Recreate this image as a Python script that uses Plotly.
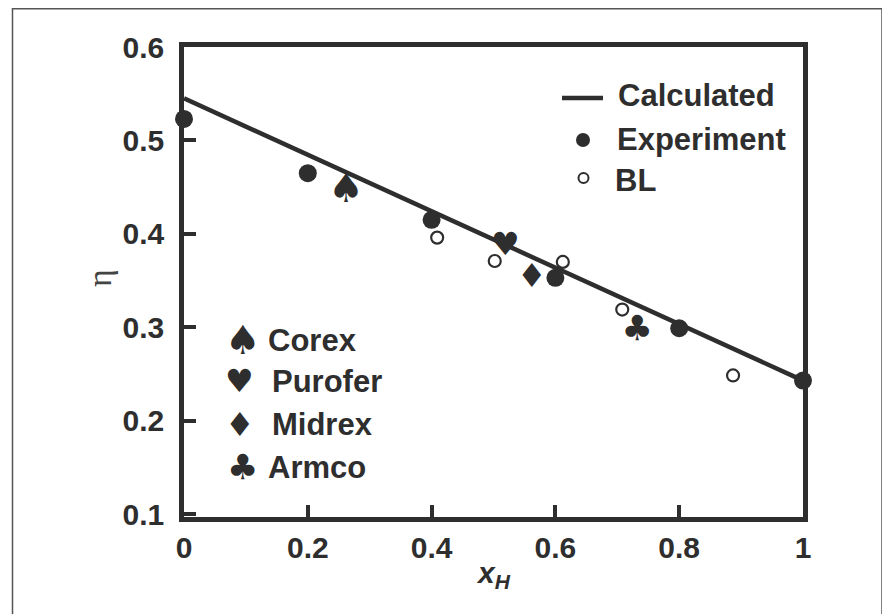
import plotly.graph_objects as go

# ---- data ----
calc_x = [0.0, 1.0]
calc_y = [0.545, 0.243]

exp_x = [0.0, 0.2, 0.4, 0.6, 0.8, 1.0]
exp_y = [0.523, 0.465, 0.415, 0.353, 0.299, 0.243]

bl_x = [0.409, 0.502, 0.612, 0.708, 0.887]
bl_y = [0.396, 0.371, 0.370, 0.319, 0.2485]

plant_names = ["Corex", "Purofer", "Midrex", "Armco"]
plant_symbols = ["\u2660", "\u2665", "\u2666", "\u2663"]
plant_x = [0.262, 0.519, 0.562, 0.732]
plant_y = [0.445, 0.386, 0.352, 0.296]

x_ticks = [0, 0.2, 0.4, 0.6, 0.8, 1]
x_ticklabels = ["0", "0.2", "0.4", "0.6", "0.8", "1"]
y_ticks = [0.1, 0.2, 0.3, 0.4, 0.5, 0.6]
y_ticklabels = ["0.1", "0.2", "0.3", "0.4", "0.5", "0.6"]

# ---- style ----
OFF = 8  # page body margin
W, H = 890 - OFF, 614 - OFF
INK = "#2e2e2e"
FONT = "Liberation Sans"
FS = 31
TFS = 30
SYM_SIZES = [40, 32, 33, 35]

def px(x):
    return (x - OFF) / W

def py(y):
    return 1 - (y - OFF) / H

fig = go.Figure()

fig.add_trace(go.Scatter(x=calc_x, y=calc_y, mode="lines",
                         line=dict(color=INK, width=4.5), showlegend=False,
                         cliponaxis=False))
fig.add_trace(go.Scatter(x=exp_x, y=exp_y, mode="markers",
                         marker=dict(color=INK, size=18, line=dict(width=0)),
                         showlegend=False, cliponaxis=False))
fig.add_trace(go.Scatter(x=bl_x, y=bl_y, mode="markers",
                         marker=dict(color="white", size=12,
                                     line=dict(color=INK, width=2.2)),
                         showlegend=False, cliponaxis=False))
fig.add_trace(go.Scatter(x=plant_x, y=plant_y, mode="text",
                         text=plant_symbols, textposition="middle center",
                         textfont=dict(family="DejaVu Sans", size=SYM_SIZES, color=INK),
                         showlegend=False, cliponaxis=False))

ann = []
# upper-right legend
legend_items = [("Calculated", 616, 95), ("Experiment", 615, 140), ("BL", 613, 180)]
for txt, x0, y0 in legend_items:
    ann.append(dict(x=px(x0), y=py(y0), xref="paper", yref="paper",
                    text="<b>%s</b>" % txt, showarrow=False,
                    xanchor="left", yanchor="middle",
                    font=dict(family=FONT, size=FS, color=INK)))
shapes = [
    dict(type="line", xref="paper", yref="paper",
         x0=px(562), x1=px(603), y0=py(98), y1=py(98),
         line=dict(color=INK, width=4.5)),
    dict(type="circle", xref="paper", yref="paper",
         x0=px(576), x1=px(590), y0=py(133), y1=py(147),
         fillcolor=INK, line=dict(width=0)),
    dict(type="circle", xref="paper", yref="paper",
         x0=px(578.5), x1=px(588.5), y0=py(173), y1=py(183),
         fillcolor="white", line=dict(color=INK, width=2)),
    # outer frame
    dict(type="rect", xref="paper", yref="paper",
         x0=px(12.5), x1=px(882), y0=py(8.8), y1=py(650),
         line=dict(color="#555555", width=1.5), layer="below"),
]

# lower-left legend
ll_sym_x = [243, 240, 240, 242]
ll_txt_x = [266, 270, 270, 266]
ll_y = [340, 381, 424, 467]
for name, sym, sx, tx, yy, ss in zip(plant_names, plant_symbols, ll_sym_x, ll_txt_x, ll_y, SYM_SIZES):
    ann.append(dict(x=px(sx), y=py(yy), xref="paper", yref="paper",
                    text=sym, showarrow=False, xanchor="center", yanchor="middle",
                    font=dict(family="DejaVu Sans", size=ss, color=INK)))
    ann.append(dict(x=px(tx), y=py(yy), xref="paper", yref="paper",
                    text="<b>%s</b>" % name, showarrow=False,
                    xanchor="left", yanchor="middle",
                    font=dict(family=FONT, size=FS, color=INK)))

# axis titles
ann.append(dict(x=px(100), y=py(278), xref="paper", yref="paper",
                text="\u03b7", showarrow=False, textangle=-90,
                xanchor="center", yanchor="middle",
                font=dict(family="Liberation Serif", size=34, color="#444444")))
ann.append(dict(x=px(493), y=py(574), xref="paper", yref="paper",
                text="<b><i>x</i></b><sub><b><i>H</i></b></sub>", showarrow=False,
                xanchor="center", yanchor="middle",
                font=dict(family=FONT, size=TFS, color=INK)))

axis_common = dict(showgrid=False, zeroline=False, showline=True,
                   linecolor=INK, linewidth=4.5, mirror=True,
                   ticks="inside", ticklen=12, tickwidth=4, tickcolor=INK,
                   tickfont=dict(family=FONT, size=TFS, color=INK),
                   automargin=False, fixedrange=True)

fig.update_layout(
    width=W, height=H,
    margin=dict(l=0, r=0, t=0, b=0, pad=0),
    paper_bgcolor="white", plot_bgcolor="white",
    xaxis=dict(range=[0, 1], domain=[px(184), px(803)],
               tickvals=x_ticks, ticktext=["<b>%s</b>" % t for t in x_ticklabels],
               ticklabelstandoff=0, **axis_common),
    yaxis=dict(range=[0.097, 0.6], domain=[py(517), py(47)],
               tickvals=y_ticks, ticktext=["<b>%s</b>" % t for t in y_ticklabels],
               ticklabelstandoff=9, **axis_common),
    annotations=ann, shapes=shapes,
)

fig.write_html("out.html")
